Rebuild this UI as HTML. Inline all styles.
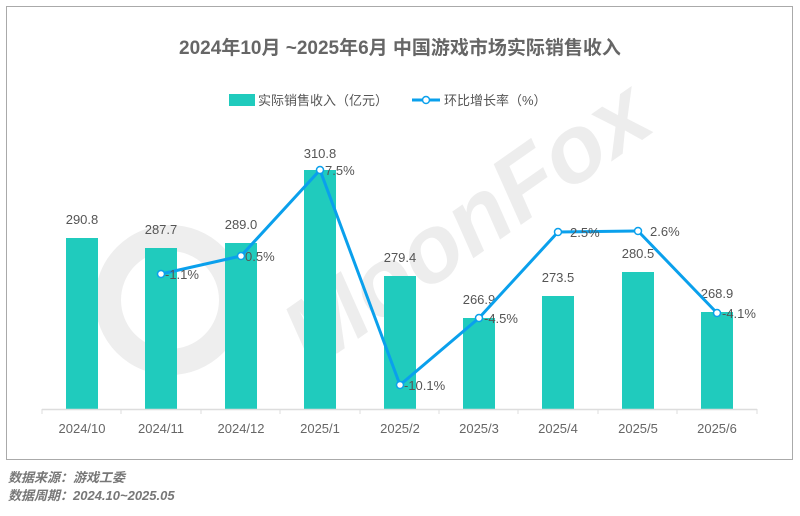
<!DOCTYPE html><html><head><meta charset="utf-8"><style>body{margin:0;background:#fff}</style></head><body>
<svg width="800" height="511" xmlns="http://www.w3.org/2000/svg" font-family="Liberation Sans, Noto Sans CJK SC, sans-serif">
<rect x="0" y="0" width="800" height="511" fill="#fff"/>
<rect x="6.5" y="6.5" width="786" height="453" fill="#fff" stroke="#aaa" stroke-width="1"/>
<text x="0" y="0" font-size="95" font-weight="bold" font-style="italic" fill="#ededed" text-anchor="middle" transform="translate(485,250) rotate(-35)">MoonFox</text>
<circle cx="170" cy="300" r="62" fill="none" stroke="#eeeeee" stroke-width="26"/>
<text x="400" y="54" text-anchor="middle" font-size="19" font-weight="bold" fill="#666">2024年10月 ~2025年6月 中国游戏市场实际销售收入</text>
<rect x="229" y="94" width="26" height="12" fill="#20cbbd"/>
<text x="258" y="105" font-size="13" fill="#555">实际销售收入（亿元）</text>
<line x1="412" y1="100" x2="440" y2="100" stroke="#0aa0ec" stroke-width="3"/>
<circle cx="426" cy="100" r="3.5" fill="#fff" stroke="#0aa0ec" stroke-width="1.5"/>
<text x="444" y="105" font-size="13" fill="#555">环比增长率（%）</text>
<g fill="#20cbbd">
<rect x="66" y="238" width="32" height="171"/>
<rect x="145" y="248" width="32" height="161"/>
<rect x="225" y="243" width="32" height="166"/>
<rect x="304" y="170" width="32" height="239"/>
<rect x="384" y="276" width="32" height="133"/>
<rect x="463" y="318" width="32" height="91"/>
<rect x="542" y="296" width="32" height="113"/>
<rect x="622" y="272" width="32" height="137"/>
<rect x="701" y="312" width="32" height="97"/>
</g>
<line x1="42" y1="409.5" x2="757" y2="409.5" stroke="#ddd" stroke-width="1.5"/>
<g stroke="#ddd"><line x1="42" y1="409" x2="42" y2="414"/><line x1="121" y1="409" x2="121" y2="414"/><line x1="201" y1="409" x2="201" y2="414"/><line x1="280" y1="409" x2="280" y2="414"/><line x1="360" y1="409" x2="360" y2="414"/><line x1="439" y1="409" x2="439" y2="414"/><line x1="518" y1="409" x2="518" y2="414"/><line x1="598" y1="409" x2="598" y2="414"/><line x1="677" y1="409" x2="677" y2="414"/><line x1="757" y1="409" x2="757" y2="414"/></g>
<g font-size="13" fill="#666" text-anchor="middle">
<text x="82" y="433">2024/10</text><text x="161" y="433">2024/11</text><text x="241" y="433">2024/12</text><text x="320" y="433">2025/1</text><text x="400" y="433">2025/2</text><text x="479" y="433">2025/3</text><text x="558" y="433">2025/4</text><text x="638" y="433">2025/5</text><text x="717" y="433">2025/6</text>
</g>
<g font-size="13" fill="#555" text-anchor="middle">
<text x="82" y="224">290.8</text><text x="161" y="234">287.7</text><text x="241" y="229">289.0</text><text x="320" y="158">310.8</text><text x="400" y="262">279.4</text><text x="479" y="304">266.9</text><text x="558" y="282">273.5</text><text x="638" y="258">280.5</text><text x="717" y="298">268.9</text>
</g>
<polyline points="161,274 241,256 320,170 400,385 479,318 558,232 638,231 717,313" fill="none" stroke="#0aa0ec" stroke-width="3" stroke-linejoin="round"/>
<g fill="#fff" stroke="#0aa0ec" stroke-width="1.5">
<circle cx="161" cy="274" r="3.5"/><circle cx="241" cy="256" r="3.5"/><circle cx="320" cy="170" r="3.5"/><circle cx="400" cy="385" r="3.5"/><circle cx="479" cy="318" r="3.5"/><circle cx="558" cy="232" r="3.5"/><circle cx="638" cy="231" r="3.5"/><circle cx="717" cy="313" r="3.5"/>
</g>
<g font-size="13" fill="#555">
<text x="165" y="279">-1.1%</text><text x="245" y="261">0.5%</text><text x="325" y="175">7.5%</text><text x="404" y="390">-10.1%</text><text x="484" y="323">-4.5%</text><text x="570" y="237">2.5%</text><text x="650" y="236">2.6%</text><text x="722" y="318">-4.1%</text>
</g>
<g font-size="13" fill="#777" font-style="italic" font-weight="bold">
<text x="8" y="482">数据来源：游戏工委</text>
<text x="8" y="500">数据周期：2024.10~2025.05</text>
</g>
</svg>
</body></html>
